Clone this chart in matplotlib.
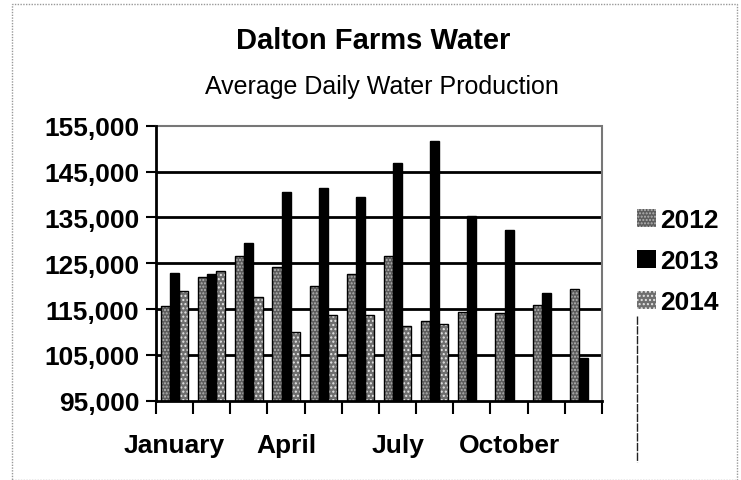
import numpy as np
import matplotlib
matplotlib.use("Agg")
import matplotlib.pyplot as plt
from matplotlib.patches import Patch, Rectangle
from matplotlib.lines import Line2D
from matplotlib.ticker import FuncFormatter, FixedLocator

# --------------------------------------------------------------------------
# data
# --------------------------------------------------------------------------
months = ["January", "February", "March", "April", "May", "June", "July",
          "August", "September", "October", "November", "December"]
shown_months = ["January", "April", "July", "October"]
y2012 = [115600, 121900, 126600, 124200, 120100, 122600, 126600, 112450,
         114300, 114050, 115950, 119300]
y2013 = [122850, 122600, 129500, 140450, 141500, 139400, 146800, 151600,
         135200, 132300, 118550, 104250]
y2014 = [119000, 123200, 117700, 110050, 113700, 113750, 111200, 111700]
yticks = [95000, 105000, 115000, 125000, 135000, 145000, 155000]

plt.rcParams["font.family"] = ["Liberation Sans", "DejaVu Sans"]

fig = plt.figure(figsize=(7.41, 4.81), dpi=100)
ax = fig.add_axes([0.2105, 0.1649, 0.6019, 0.5717])

x = np.arange(len(months)) + 0.5
w = 0.245

styles = [
    ("2012", y2012, -w, "#5c5c5c", "#b4b4b4", "....."),
    ("2013", y2013, 0.0, "black", "black", None),
    ("2014", y2014, w, "#6e6e6e", "#e6e6e6", "...."),
]
handles = []
for label, vals, off, fc, hc, hatch in styles:
    xs = x[:len(vals)] + off
    ax.bar(xs, vals, w, color=fc, edgecolor=hc, hatch=hatch, linewidth=0,
           zorder=3)
    ax.bar(xs, vals, w, fill=False, edgecolor="black", linewidth=1.0,
           zorder=4)
    handles.append(Patch(facecolor=fc, edgecolor=hc, hatch=hatch,
                         linewidth=0, label=label))

ax.set_xlim(0, 12)
ax.set_ylim(95000, 155000)

# gridlines
for v in yticks[1:-1]:
    ax.axhline(v, color="black", linewidth=2, zorder=2)

ax.set_yticks(yticks)
ax.yaxis.set_major_formatter(FuncFormatter(lambda v, p: f"{int(v):,}"))
ax.tick_params(axis="y", direction="out", length=7, width=1.5, pad=5,
               labelsize=19)
for t in ax.get_yticklabels():
    t.set_fontweight("bold")

# category boundaries as ticks, labels every third month
ax.xaxis.set_major_locator(FixedLocator(np.arange(0, 13)))
ax.set_xticklabels([])
ax.xaxis.set_minor_locator(FixedLocator([months.index(m) + 0.5
                                         for m in shown_months]))
ax.set_xticklabels(shown_months, minor=True, fontsize=19, fontweight="bold")
ax.tick_params(axis="x", which="major", direction="out", length=9, width=1.5)
ax.tick_params(axis="x", which="minor", length=0, pad=23)

for s in ("left", "bottom"):
    ax.spines[s].set_linewidth(2)
    ax.spines[s].set_zorder(5)
for s in ("top", "right"):
    ax.spines[s].set_color("#777777")
    ax.spines[s].set_linestyle((0, (1, 1)))
    ax.spines[s].set_linewidth(1.5)

fig.text(0.503, 0.915, "Dalton Farms Water", ha="center", va="center",
         fontsize=21, fontweight="bold")
fig.text(0.516, 0.820, "Average Daily Water Production", ha="center",
         va="center", fontsize=18)

fig.legend(handles=handles, loc="center left", bbox_to_anchor=(0.859, 0.455),
           frameon=False, prop={"weight": "bold", "size": 19},
           handlelength=0.75, handleheight=0.7, handletextpad=0.15,
           labelspacing=0.65, borderpad=0, borderaxespad=0)

# outer chart border and the stray vertical rule below the legend
fig.add_artist(Rectangle((12 / 741, 0.0), 725 / 741, 1 - 5 / 481,
                         transform=fig.transFigure, fill=False,
                         edgecolor="#999999", linewidth=1,
                         linestyle=(0, (1, 1))))
fig.add_artist(Line2D([637 / 741, 637 / 741], [1 - 317 / 481, 1 - 463 / 481],
                      transform=fig.transFigure, color="#222222",
                      linewidth=1, linestyle=(0, (6, 1))))

fig.savefig("out.png", dpi=100)
